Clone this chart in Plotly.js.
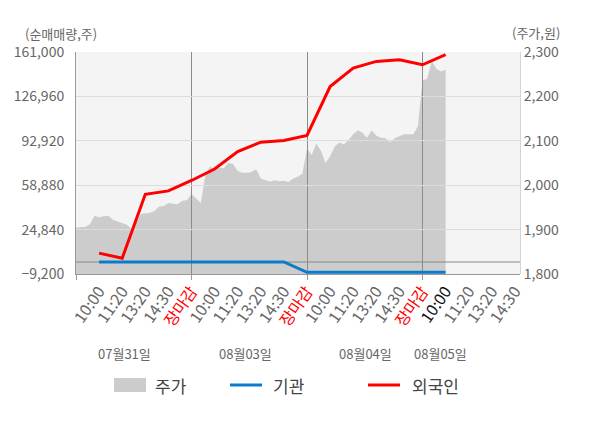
<!DOCTYPE html>
<html>
<head>
<meta charset="utf-8">
<script src="https://cdn.plot.ly/plotly-3.0.1.min.js"></script>
<style>
  html, body { margin: 0; padding: 0; background: #fff; }
  #chart { width: 600px; height: 428px; }
</style>
</head>
<body>
<div id="chart"></div>
<script>
// 5 slots between time ticks, 25 slots per trading day
const days = ["07월31일", "08월03일", "08월04일", "08월05일"];
const timeLabels = ["10:00", "11:20", "13:20", "14:30", "장마감"];

// 주가 (원), one value per slot
const price = [
  1904, 1906, 1906, 1912, 1931, 1928, 1930, 1931, 1922, 1918,
  1914, 1911, 1902, 1915, 1935, 1937, 1938, 1942, 1952, 1953,
  1960, 1958, 1957, 1965, 1966,
  1980, 1970, 1960, 2022, 2042, 2034, 2040, 2038, 2050, 2048,
  2032, 2028, 2028, 2030, 2036, 2015, 2011, 2008, 2011, 2009,
  2010, 2007, 2015, 2019, 2026,
  2083, 2068, 2094, 2078, 2050, 2065, 2087, 2096, 2092, 2102,
  2115, 2124, 2118, 2107, 2123, 2112, 2107, 2106, 2097, 2106,
  2111, 2115, 2115, 2115, 2133,
  2236, 2240, 2280, 2262, 2256, 2260
];

// 순매매량 (주), one value per time tick
const foreign = [6800, 2900, 51900, 54500, 62500, 71300, 84600, 91900,
                 93100, 97000, 134500, 148600, 153800, 155000, 151200, 158900];
const institution = [0, 0, 0, 0, 0, 0, 0, 0,
                     0, -7900, -7900, -7900, -7900, -7900, -7900, -7900];

const leftTicks = [-9200, 24840, 58880, 92920, 126960, 161000];
const rightTicks = [1800, 1900, 2000, 2100, 2200, 2300];

const STEP = 5, DAY = 25;
const xRange = [0, 96.1];

const tickVals = [], tickText = [];
days.forEach((d, di) => {
  timeLabels.forEach((t, ti) => {
    const v = di * DAY + (ti + 1) * STEP;
    if (v > xRange[1]) return;
    let txt = t;
    if (t === "장마감") txt = '<span style="color:#ff0000">' + t + '</span>';
    else if (di === days.length - 1 && ti === 0) txt = '<span style="color:#111">' + t + '</span>';
    tickVals.push(v);
    tickText.push(txt);
  });
});
const dayStarts = days.map((d, i) => i * DAY);
const tickSlots = foreign.map((v, i) => (i + 1) * STEP);

const font = 'Noto Sans CJK KR, Noto Sans, sans-serif';

// pixel helpers for paper-positioned decorations
const L = 76, R = 520, T = 52, B = 274;
const px = x => (x - L) / (R - L);
const py = y => (B - y) / (B - T);

const traces = [
  {
    x: price.map((v, i) => i), y: price, xaxis: 'x', yaxis: 'y',
    type: 'scatter', mode: 'lines', fill: 'tozeroy',
    line: { width: 0, color: '#cccccc' }, fillcolor: '#cccccc',
    hoverinfo: 'skip', showlegend: false
  },
  {
    x: xRange, y: [0, 0], xaxis: 'x2', yaxis: 'y2',
    type: 'scatter', mode: 'lines',
    line: { width: 1, color: '#888' }, hoverinfo: 'skip', showlegend: false
  },
  {
    x: tickSlots, y: institution, xaxis: 'x2', yaxis: 'y2', name: '기관',
    type: 'scatter', mode: 'lines', line: { width: 3, color: '#0a7ccb' },
    showlegend: false
  },
  {
    x: tickSlots, y: foreign, xaxis: 'x2', yaxis: 'y2', name: '외국인',
    type: 'scatter', mode: 'lines', line: { width: 3, color: '#ff0000' },
    showlegend: false
  }
];

const annotations = [
  { text: '(순매매량,주)', x: px(61), y: py(33) },
  { text: '(주가,원)', x: px(536), y: py(32) },
  { text: days[0], x: px(124), y: py(353) },
  { text: days[1], x: px(245), y: py(353) },
  { text: days[2], x: px(365), y: py(353) },
  { text: days[3], x: px(440), y: py(353) }
].map(a => Object.assign({
  xref: 'paper', yref: 'paper', showarrow: false, borderpad: 0,
  xanchor: 'center', yanchor: 'middle',
  font: { family: font, size: 13, color: '#666' }
}, a));

const legendItems = [
  { text: '주가', x: 153 },
  { text: '기관', x: 271 },
  { text: '외국인', x: 410 }
];
legendItems.forEach(it => annotations.push({
  text: it.text, xref: 'paper', yref: 'paper', x: px(it.x), y: py(385),
  xanchor: 'left', yanchor: 'middle', showarrow: false,
  font: { family: font, size: 17, color: '#444' }
}));

const shapes = [
  { type: 'rect', xref: 'paper', yref: 'paper', x0: 0, x1: 1, y0: 0, y1: 1,
    fillcolor: '#f4f4f4', line: { width: 0 }, layer: 'below' },
  { type: 'rect', xref: 'paper', yref: 'paper', x0: px(114), x1: px(146),
    y0: py(392), y1: py(378), fillcolor: '#cccccc', line: { width: 0 } },
  { type: 'line', xref: 'paper', yref: 'paper', x0: px(230), x1: px(262),
    y0: py(385), y1: py(385), line: { width: 3, color: '#0a7ccb' } },
  { type: 'line', xref: 'paper', yref: 'paper', x0: px(368), x1: px(400),
    y0: py(385), y1: py(385), line: { width: 3, color: '#ff0000' } }
];

const layout = {
  width: 600, height: 428,
  margin: { l: L, r: 600 - R, t: T, b: 428 - B },
  paper_bgcolor: '#fff', plot_bgcolor: 'rgba(0,0,0,0)',
  font: { family: font, size: 14, color: '#666' },
  showlegend: false,
  xaxis: {
    domain: [0, 1], range: xRange, anchor: 'y',
    tickmode: 'array', tickvals: tickVals, ticktext: tickText,
    tickangle: -55, ticks: '', ticklabelstandoff: 4,
    showgrid: false, zeroline: false, showline: false,
    tickfont: { family: font, size: 16, color: '#666' }
  },
  yaxis: {
    domain: [0, 1], range: [rightTicks[0], rightTicks[rightTicks.length - 1]],
    anchor: 'x', side: 'right', tickmode: 'array', tickvals: rightTicks,
    tickformat: ',', showgrid: false, zeroline: false,
    showline: true, linecolor: '#d4d4d4', ticks: '',
    tickfont: { family: font, size: 14, color: '#666' }
  },
  xaxis2: {
    domain: [0, 1], range: xRange, anchor: 'y2',
    tickmode: 'array', tickvals: dayStarts, showticklabels: false,
    ticks: 'outside', ticklen: 5, tickcolor: '#999',
    showgrid: true, gridcolor: '#8c8c8c', gridwidth: 1,
    zeroline: false, showline: true, linecolor: '#999'
  },
  yaxis2: {
    domain: [0, 1], range: [leftTicks[0], leftTicks[leftTicks.length - 1]],
    anchor: 'x2', side: 'left', tickmode: 'array', tickvals: leftTicks,
    tickformat: ',', showgrid: true, gridcolor: '#dcdcdc',
    zeroline: false, showline: true, linecolor: '#999', ticks: '',
    ticklabelstandoff: 8,
    tickfont: { family: font, size: 14, color: '#666' }
  },
  annotations: annotations,
  shapes: shapes
};

Plotly.newPlot('chart', traces, layout, { displayModeBar: false, staticPlot: true });
</script>
</body>
</html>
